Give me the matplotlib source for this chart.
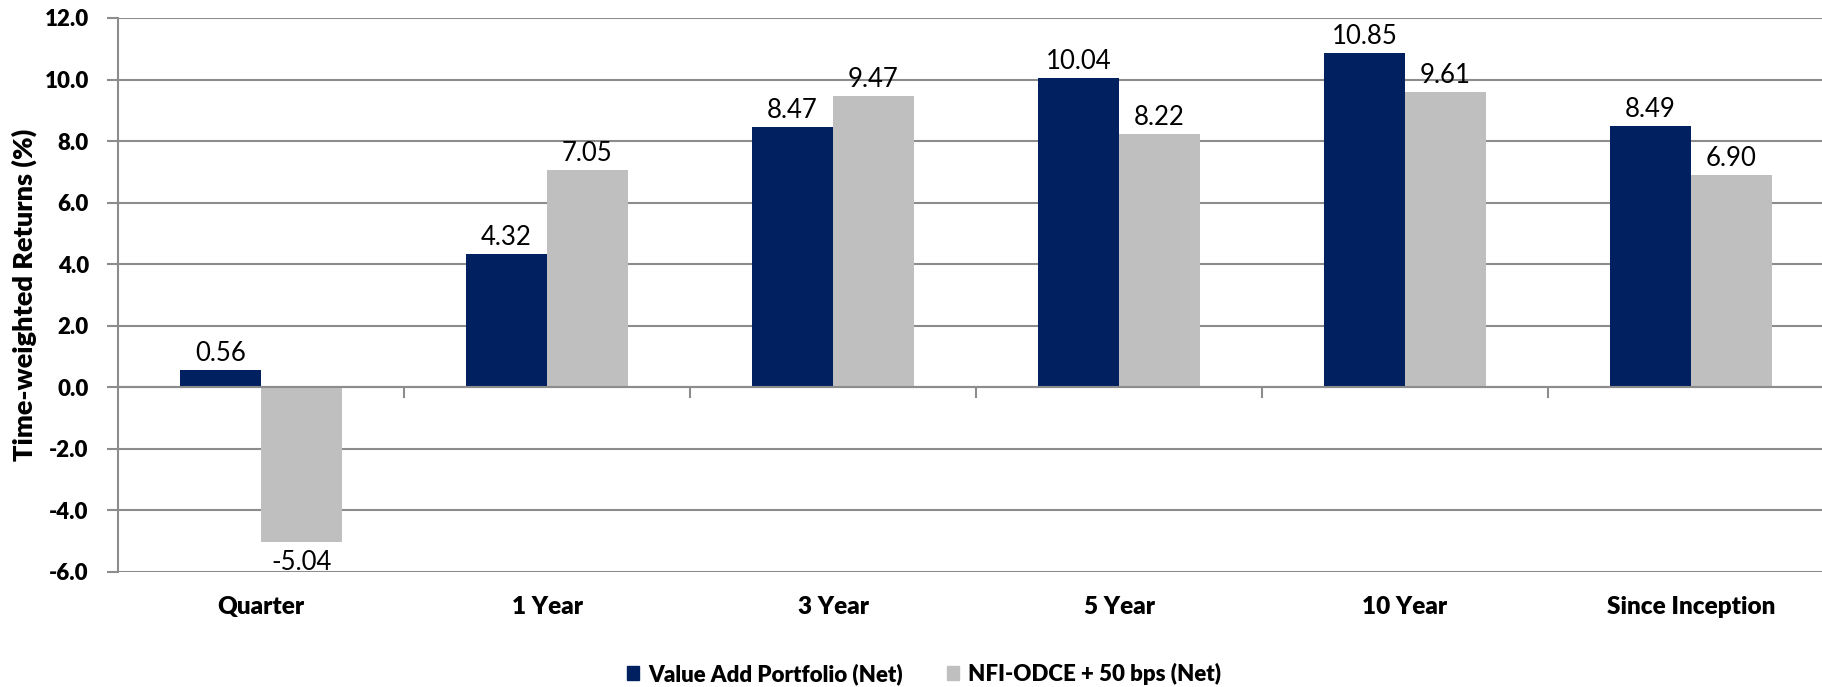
import matplotlib
matplotlib.use("Agg")
import matplotlib.pyplot as plt
from matplotlib.patches import Patch
import numpy as np

plt.rcParams['font.family'] = ['Lato', 'DejaVu Sans']

categories = ["Quarter", "1 Year", "3 Year", "5 Year", "10 Year", "Since Inception"]
portfolio = [0.56, 4.32, 8.47, 10.04, 10.85, 8.49]
benchmark = [-5.04, 7.05, 9.47, 8.22, 9.61, 6.90]
series_names = ["Value Add Portfolio (Net)", "NFI-ODCE + 50 bps (Net)"]
y_ticks = [-6, -4, -2, 0, 2, 4, 6, 8, 10, 12]

NAVY = "#002060"
GRAY = "#BFBFBF"
GRID = "#8C8C8C"
HEAVY = 800

fig = plt.figure(figsize=(18.22, 6.87), dpi=100)
# axes runs slightly past the right edge of the canvas
ax = fig.add_axes([118 / 1822, 1 - 572 / 687, 1716 / 1822, 554 / 687])

x = np.arange(len(categories))
w = 0.283
b1 = ax.bar(x - w / 2, portfolio, w, color=NAVY, zorder=2)
b2 = ax.bar(x + w / 2, benchmark, w, color=GRAY, zorder=2)

def label_bars(bars, values):
    for rect, v in zip(bars, values):
        cx = rect.get_x() + rect.get_width() / 2
        dy = 6.5 if v >= 0 else -20
        ax.annotate(f"{v:.2f}", (cx, v), xytext=(0, dy), textcoords="offset points",
                    ha="center", va="baseline", fontsize=18.5, color="black")

label_bars(b1, portfolio)
label_bars(b2, benchmark)

ax.set_xlim(-0.5, len(categories) - 0.5)
ax.set_ylim(y_ticks[0], y_ticks[-1])
ax.set_yticks(y_ticks, labels=[f"{v:.1f}" for v in y_ticks])
ax.grid(axis="y", color=GRID, lw=1.5, zorder=0)
ax.set_axisbelow(True)

for s in ["top", "right"]:
    ax.spines[s].set_visible(False)
ax.spines["left"].set_color(GRID)
ax.spines["left"].set_linewidth(1.5)
# category axis sits on the zero line
ax.spines["bottom"].set_position(("data", 0))
ax.spines["bottom"].set_color(GRID)
ax.spines["bottom"].set_linewidth(1.5)
ax.spines["bottom"].set_zorder(3)

ax.tick_params(axis="y", length=8, width=1.5, color=GRID, pad=13, labelsize=16)

# ticks between categories, names placed below the plot area
ax.set_xticks(np.arange(0.5, len(categories) - 0.5, 1))
ax.tick_params(axis="x", length=8, width=1.5, color=GRID, labelbottom=False)

for xi, name in zip(x, categories):
    ax.text(xi, -0.063, name, transform=ax.get_xaxis_transform(), ha="center", va="center",
            fontsize=17.5, fontweight=HEAVY)

fig.text(24 / 1822, 1 - 295 / 687, "Time-weighted Returns (%)", rotation=90,
         ha="center", va="center", fontsize=19.5, fontweight=HEAVY)

handles = [Patch(color=NAVY), Patch(color=GRAY)]
fig.legend(handles, series_names, loc="center", bbox_to_anchor=(924 / 1822, 1 - 674 / 687),
           ncol=2, frameon=False, handlelength=0.55, handleheight=0.6, handletextpad=0.4,
           columnspacing=2.0, prop={"size": 16, "weight": HEAVY})

fig.canvas.draw()
for tick in ax.yaxis.get_major_ticks():
    tick.label1.set_fontweight(HEAVY)

fig.savefig("out.png", dpi=100)
